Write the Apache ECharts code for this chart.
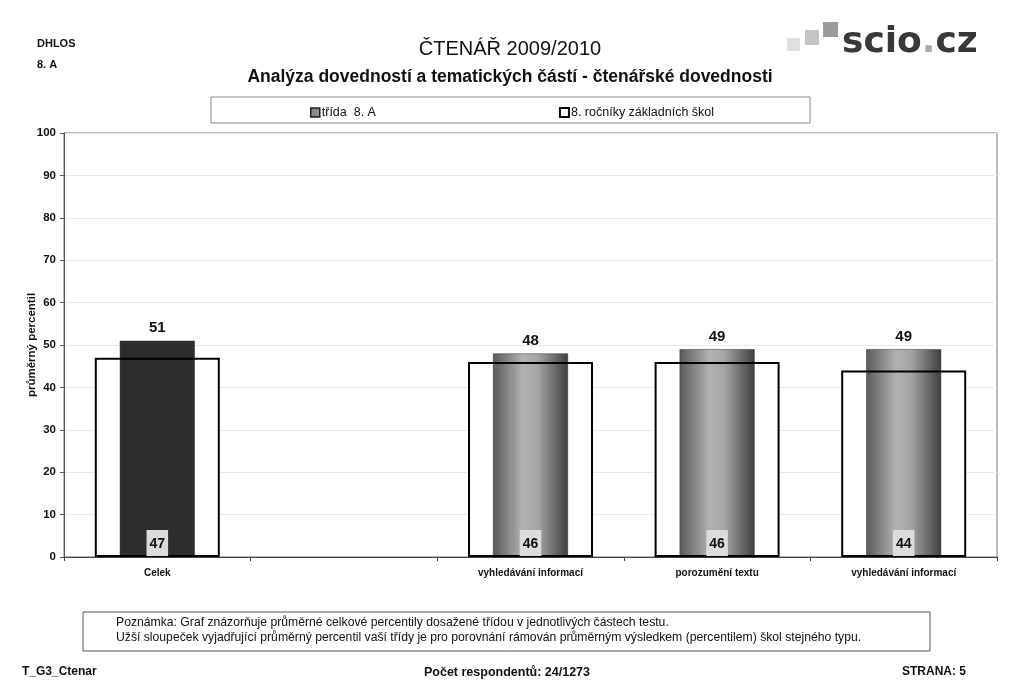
<!DOCTYPE html>
<html>
<head>
<meta charset="utf-8">
<script src="https://cdn.jsdelivr.net/npm/echarts@6/dist/echarts.min.js"></script>
<style>
html,body{margin:0;padding:0;background:#fff;}
#c{width:1024px;height:699px;}
</style>
</head>
<body>
<div id="c"></div>
<script>
var categories = ['Celek', '', 'vyhledávání informací', 'porozumění textu', 'vyhledávání informací'];
var classValues = [51, null, 48, 49, 49];
var schoolValues = [47, null, 46, 46, 44];
var yTicks = [0, 10, 20, 30, 40, 50, 60, 70, 80, 90, 100];
var seriesNames = ['třída  8. A', '8. ročníky základních škol'];

var FONT = "'Liberation Sans', Arial, sans-serif";

var cylinder = new echarts.graphic.LinearGradient(0, 0, 1, 0, [
  {offset: 0, color: '#5a5a5a'},
  {offset: 0.4, color: '#b2b2b2'},
  {offset: 0.6, color: '#a4a4a4'},
  {offset: 1, color: '#3e3e3e'}
]);

var classData = classValues.map(function (v, i) {
  return {
    value: v,
    itemStyle: {color: i === 0 ? '#2d2d2d' : cylinder, borderColor: '#333', borderWidth: 0.5}
  };
});

function txt(x, y, s, font, align) {
  return {type: 'text', x: x, y: y, style: {text: s, font: font, fill: '#111', align: align || 'left', textAlign: align || 'left', verticalAlign: 'top', textVerticalAlign: 'top'}};
}

var chart = echarts.init(document.getElementById('c'), null, {renderer: 'canvas'});
chart.setOption({
  animation: false,
  backgroundColor: '#fff',
  textStyle: {fontFamily: FONT},
  legend: {
    left: 305, top: 101, itemGap: 183, itemWidth: 9, itemHeight: 9, icon: 'rect',
    textStyle: {fontSize: 12.5, color: '#111', fontFamily: FONT, padding: [0, 0, 0, -3]},
    data: [
      {name: seriesNames[0], itemStyle: {color: '#8a8a8a', borderColor: '#222', borderWidth: 1.5}},
      {name: seriesNames[1], itemStyle: {color: '#fff', borderColor: '#000', borderWidth: 2}}
    ]
  },
  grid: {left: 64, right: 27, top: 133, bottom: 142, show: true, borderColor: '#777', borderWidth: 1},
  xAxis: [
    {type: 'category', data: categories,
     axisLine: {lineStyle: {color: '#444', width: 1}},
     axisTick: {show: true, alignWithLabel: false, length: 4, lineStyle: {color: '#444'}},
     axisLabel: {fontSize: 10, fontWeight: 'bold', color: '#111', margin: 11, interval: 0}},
    {type: 'category', data: categories, show: false}
  ],
  yAxis: {
    type: 'value', min: yTicks[0], max: yTicks[yTicks.length - 1], interval: 10,
    name: 'průměrný percentil', nameLocation: 'middle', nameGap: 26, nameMoveOverlap: false,
    nameTextStyle: {fontSize: 11.5, fontWeight: 'bold', color: '#111'},
    axisLine: {show: true, lineStyle: {color: '#555'}},
    axisTick: {show: true, length: 4, lineStyle: {color: '#555'}},
    axisLabel: {fontSize: 11.5, fontWeight: 'bold', color: '#111', margin: 8},
    splitLine: {lineStyle: {color: '#e8e8e8'}}
  },
  series: [
    {name: 'podklad', type: 'bar', xAxisIndex: 0, data: schoolValues, barWidth: 125, barGap: '-100%',
     itemStyle: {color: '#fff'}, silent: true, z: 1},
    {name: seriesNames[0], type: 'bar', xAxisIndex: 1, data: classData, barWidth: 75, z: 2,
     label: {show: true, position: 'top', distance: 5, fontSize: 15, fontWeight: 'bold', color: '#111'}},
    {name: seriesNames[1], type: 'bar', xAxisIndex: 0, data: schoolValues, barWidth: 125, barGap: '-100%', z: 3,
     itemStyle: {color: 'rgba(0,0,0,0)', borderColor: '#000', borderWidth: 2},
     label: {show: true, position: 'insideBottom', distance: 1, fontSize: 14, fontWeight: 'bold', color: '#111',
             backgroundColor: '#dcdcdc', padding: [7, 3, 5, 3]}}
  ],
  graphic: [
    {type: 'rect', shape: {x: 211, y: 97, width: 599, height: 26}, style: {fill: 'none', stroke: '#888', lineWidth: 1}, z: -1},
    txt(510, 39, 'ČTENÁŘ 2009/2010', 'normal 20px ' + FONT, 'center'),
    txt(510, 68, 'Analýza dovedností a tematických částí - čtenářské dovednosti', 'bold 17.5px ' + FONT, 'center'),
    txt(37, 38, 'DHLOS', 'bold 11px ' + FONT),
    txt(37, 59, '8. A', 'bold 11px ' + FONT),
    {type: 'rect', shape: {x: 787, y: 38, width: 13, height: 13}, style: {fill: '#e0e0e0'}},
    {type: 'rect', shape: {x: 805, y: 30, width: 14, height: 15}, style: {fill: '#c4c4c4'}},
    {type: 'rect', shape: {x: 823, y: 22, width: 15, height: 15}, style: {fill: '#9c9c9c'}},
    {type: 'text', x: 842, y: 25, style: {
      text: '{a|scio}{b|.}{a|cz}', verticalAlign: 'top',
      rich: {a: {font: 'bold 36px "DejaVu Sans", sans-serif', fill: '#383838'}, b: {font: 'bold 36px "DejaVu Sans", sans-serif', fill: '#aaa'}}
    }},
    {type: 'rect', shape: {x: 83, y: 612, width: 847, height: 39}, style: {fill: 'none', stroke: '#555', lineWidth: 1}},
    txt(116, 617, 'Poznámka: Graf znázorňuje průměrné celkové percentily dosažené třídou v jednotlivých částech testu.', '12.2px ' + FONT),
    txt(116, 632, 'Užší sloupeček vyjadřující průměrný percentil vaší třídy je pro porovnání rámován průměrným výsledkem (percentilem) škol stejného typu.', '12.2px ' + FONT),
    txt(22, 666, 'T_G3_Ctenar', 'bold 12px ' + FONT),
    txt(507, 666, 'Počet respondentů: 24/1273', 'bold 12.5px ' + FONT, 'center'),
    txt(966, 666, 'STRANA: 5', 'bold 12px ' + FONT, 'right')
  ]
});
</script>
</body>
</html>
